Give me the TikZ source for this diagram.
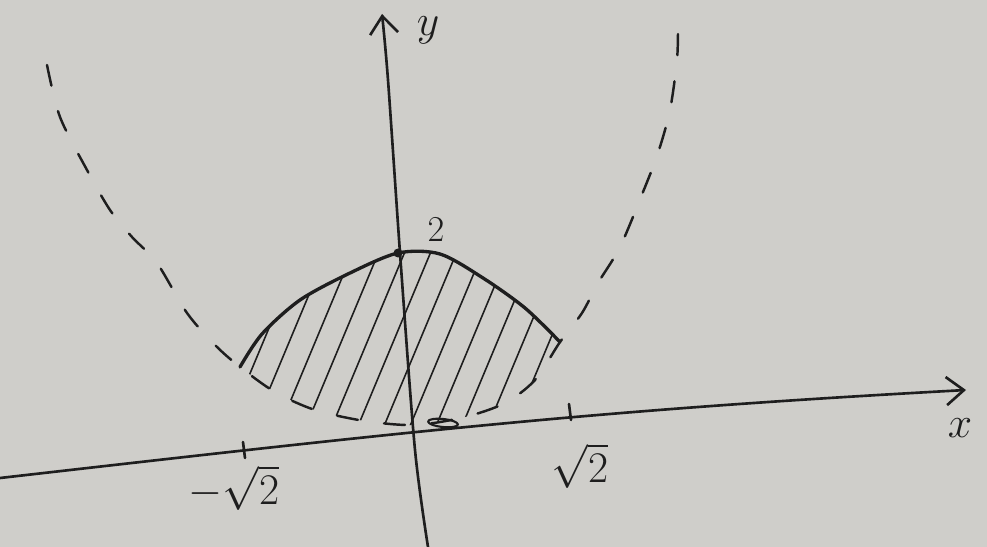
\documentclass[tikz,border=0pt]{standalone}
\usepackage{amsmath}
\usetikzlibrary{arrows.meta}
\definecolor{paper}{RGB}{207,206,202}
\definecolor{ink}{RGB}{30,30,30}

\begin{document}
\begin{tikzpicture}[x=0.02cm, y=-0.02cm, line cap=round, line join=round,
    axis/.style={draw=ink, line width=1.5pt},
    archline/.style={draw=ink, line width=1.9pt},
    dashline/.style={draw=ink, line width=1.4pt, dash pattern=on 12pt off 15pt},
    hatch/.style={draw=ink, line width=0.9pt},
    lbl/.style={text=ink, font=\fontsize{26}{28}\selectfont}]

    % paper
    \fill[paper] (0,0) rectangle (987,547);
    \useasboundingbox (0,0) rectangle (987,547);

    % hatched region
    \begin{scope}
      \clip plot[smooth] coordinates {(240,367) (262,334) (300,300) (350,273) (398,253) (440,254) (483,278) (525,308) (560,342)}
        -- plot[smooth] coordinates {(560,342) (535,380) (505,403) (465,417) (415,425) (365,421) (315,410) (275,392) (240,367)} -- cycle;
      \foreach \a in {140,166,...,580}
        \draw[hatch] (\a,450) -- (\a+92,230);
    \end{scope}

    % draw dashed curve
    \draw[dashline] plot[smooth] coordinates {(47,65) (60,117) (87,170) (110,210) (132,237) (157,263) (187,313) (215,345) (240,367) (275,392) (315,410) (365,421) (415,425) (465,417) (505,403) (535,380) (560,342) (582,313) (598,283) (620,247) (643,192) (658,153) (670,110) (677,60) (678,27)};

    % draw solid arch
    \draw[archline] plot[smooth] coordinates {(240,367) (262,334) (300,300) (350,273) (398,253) (440,254) (483,278) (525,308) (560,342)};

    % draw axes
    \draw[axis, -{Straight Barb[length=10pt, width=16pt]}] (0,478) .. controls (420,430) and (600,410) .. (966,390);
    \draw[axis, -{Straight Barb[length=10pt, width=16pt]}] plot[smooth] coordinates {(428,547) (415,450) (401,267) (388,80) (382,14)};

    % draw ticks
    \coordinate (tl) at (244,450);
    \coordinate (tr) at (570,412);
    \foreach \t in {tl,tr}
      \draw[axis] (\t) ++(-1,-8) -- ++(2,16);

    % marks
    \fill[ink] (398,253) circle (4.5);
    \draw[ink, line width=1.2pt, rotate around={-6:(443,423)}] (443,423) ellipse (15 and 4);

    % draw labels
    \node[lbl] (ylbl) at (428,30) {$y$};
    \node[lbl] (xlbl) at (960,428) {$x$};
    \node[lbl] (mroot) at (234,488) {$-\sqrt{2}$};
    \node[lbl] (proot) at (580,466) {$\sqrt{2}$};
    \node[lbl, font=\fontsize{20}{22}\selectfont] (two) at (436,230) {$2$};
\end{tikzpicture}
\end{document}
